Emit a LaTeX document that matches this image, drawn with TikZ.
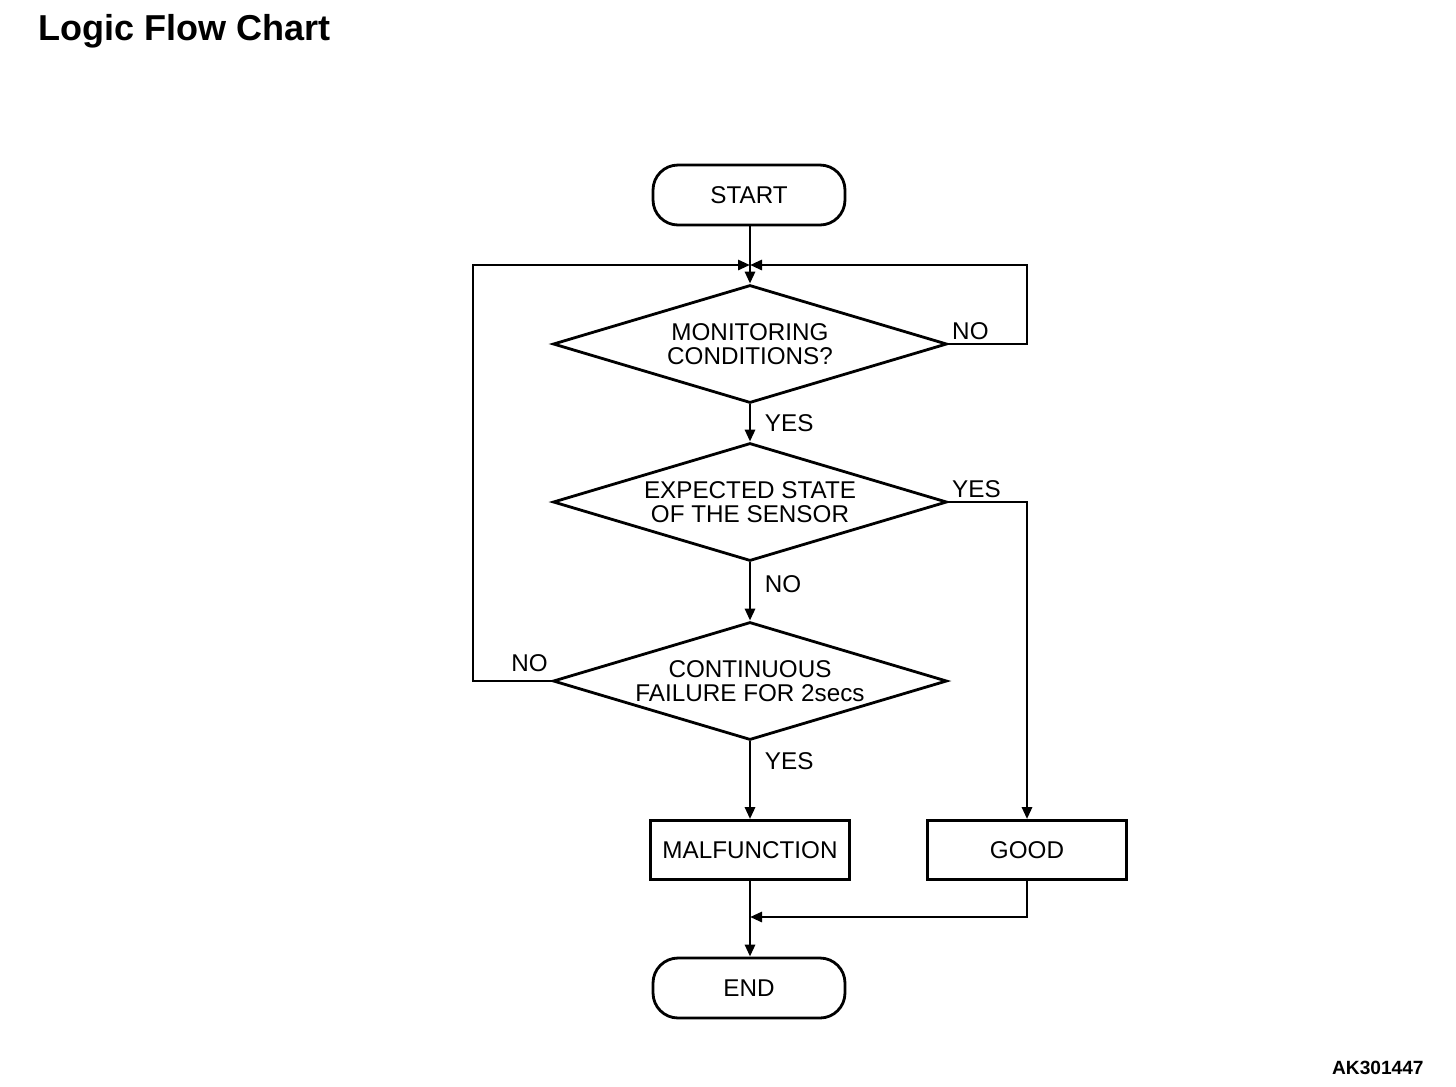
\documentclass[tikz,border=0pt]{standalone}
\usepackage{fontspec}
\setmainfont{Liberation Sans}
\usetikzlibrary{shapes.geometric,arrows.meta,positioning}

\tikzset{
  term/.style={draw, line width=1.6pt, rounded corners=0.5cm, minimum width=3.84cm, minimum height=1.2cm, inner sep=0pt},
  decide/.style={draw, diamond, line width=1.6pt, aspect=3.34, minimum width=7.88cm, minimum height=2.36cm, inner sep=0pt, align=center},
  act/.style={draw, line width=1.6pt, minimum width=3.98cm, minimum height=1.18cm, inner sep=0pt},
  flow/.style={line width=1.6pt, -{Triangle[length=0.24cm, width=0.2cm]}},
  lbl/.style={inner sep=2pt}
}

\begin{document}
\begin{tikzpicture}[x=0.02cm, y=-0.02cm, font=\fontsize{13.8}{14}\selectfont]
\useasboundingbox (0,0) rectangle (1456,1086);

% title and figure code
\node[anchor=base west, inner sep=0pt, font=\fontsize{20.5}{22}\selectfont\bfseries] (title) at (38,40) {Logic Flow Chart};
\node[anchor=base east, inner sep=0pt, font=\fontsize{10.9}{12}\selectfont\bfseries] (code) at (1424,1074) {AK301447};

% boxes
\node[term] (start) at (749,195) {START};
\node[decide] (mon) at (750,344) {MONITORING\\CONDITIONS?};
\node[decide] (exp) at (750,502) {EXPECTED STATE\\OF THE SENSOR};
\node[decide] (cont) at (750,681) {CONTINUOUS\\FAILURE FOR 2secs};
\node[act] (mal) at (750,850) {MALFUNCTION};
\node[act] (good) at (1027,850) {GOOD};
\node[term] (end) at (749,988) {END};

\coordinate (m1) at (750,265);
\coordinate (lx) at (473,265);
\coordinate (m2) at (750,917);

% connectors
\draw[flow] (start.south -| mon.north) -- (mon.north);
\draw[flow] (mon.east) -- (mon.east -| good) |- (m1);
\draw[flow] (cont.west) -| (lx) -- (m1);
\draw[flow] (mon.south) -- node[lbl, midway, right, xshift=0.2cm] {YES} (exp.north);
\draw[flow] (exp.south) -- node[lbl, pos=0.37, right, xshift=0.2cm] {NO} (cont.north);
\draw[flow] (cont.south) -- node[lbl, pos=0.25, right, xshift=0.2cm] {YES} (mal.north);
\draw[flow] (exp.east) -| (good.north);
\draw[flow] (mal.south) -- (end.north -| mal.south);
\draw[flow] (good.south) |- (m2);

% branch labels
\node[lbl, anchor=south west] (no1) at (mon.east) {NO};
\node[lbl, anchor=south west] (yes2) at (exp.east) {YES};
\node[lbl, anchor=south east, yshift=0.1cm] (no3) at (cont.west) {NO};
\end{tikzpicture}
\end{document}
